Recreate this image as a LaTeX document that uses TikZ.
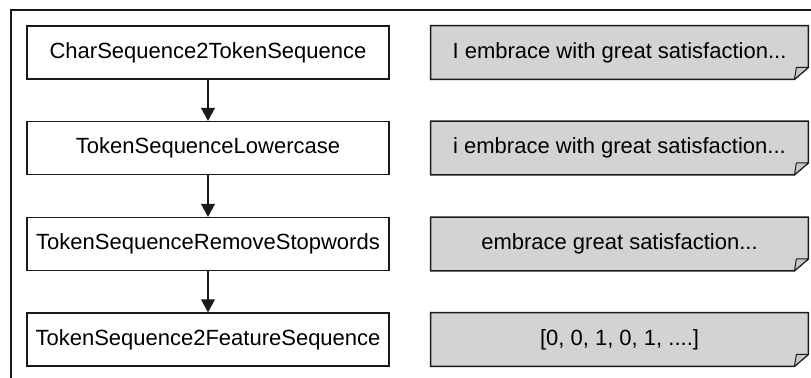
\documentclass[tikz,border=0pt]{standalone}
\usepackage{fontspec}
\setmainfont{Liberation Sans}
\usepackage{tikz}
\usetikzlibrary{arrows.meta, positioning, backgrounds}
\definecolor{notegray}{HTML}{D3D3D5}
\definecolor{foldgray}{HTML}{C6C6C8}
\definecolor{framegray}{HTML}{1A1A1A}

\begin{document}
\begin{tikzpicture}[
    x=0.5pt, y=-0.5pt,
    stage/.style={
        draw=framegray,
        line width=0.7pt,
        minimum width=181pt,
        minimum height=26.5pt,
        font=\fontsize{11}{13}\selectfont,
        inner sep=0pt
    },
    note/.style={
        minimum width=188.5pt,
        minimum height=26.5pt,
        font=\fontsize{11}{13}\selectfont,
        inner sep=0pt
    },
    arrow/.style={
        -{Triangle[length=6.5pt,width=7pt]},
        line width=0.6pt,
        color=framegray
    }
]
\useasboundingbox (0,0) rectangle (811,378);

% frame (top and left edge only)
\draw[framegray, line width=0.7pt] (11,378) -- (11,10) -- (811,10);

% pipeline stages (left)
\node[stage] (s1) at (208, 52.5) {CharSequence2TokenSequence};
\node[stage] (s2) at (208, 148) {TokenSequenceLowercase};
\node[stage] (s3) at (208, 244) {TokenSequenceRemoveStopwords};
\node[stage] (s4) at (208, 339.5) {TokenSequence2FeatureSequence};

% intermediate results (right)
\node[note] (r1) at (619.5, 52.5) {I embrace with great satisfaction...};
\node[note] (r2) at (619.5, 148) {i embrace with great satisfaction...};
\node[note] (r3) at (619.5, 244) {embrace great satisfaction...};
\node[note] (r4) at (619.5, 339.5) {[0, 0, 1, 0, 1, ....]};

% dog-eared outlines behind the notes
\begin{scope}[on background layer]
\foreach \n in {r1, r2, r3, r4} {
    \draw[framegray, line width=0.7pt, fill=notegray]
        (\n.north west) -- (\n.north east) -- ([yshift=6pt]\n.south east)
        -- ([xshift=-7pt]\n.south east) -- (\n.south west) -- cycle;
    \draw[framegray, line width=0.5pt, fill=foldgray, line join=round]
        ([yshift=6pt]\n.south east) -- ([xshift=-6pt, yshift=6pt]\n.south east)
        -- ([xshift=-7pt]\n.south east) -- cycle;
}
\end{scope}

% arrows
\draw[arrow] (s1) -- (s2);
\draw[arrow] (s2) -- (s3);
\draw[arrow] (s3) -- (s4);

\end{tikzpicture}
\end{document}
